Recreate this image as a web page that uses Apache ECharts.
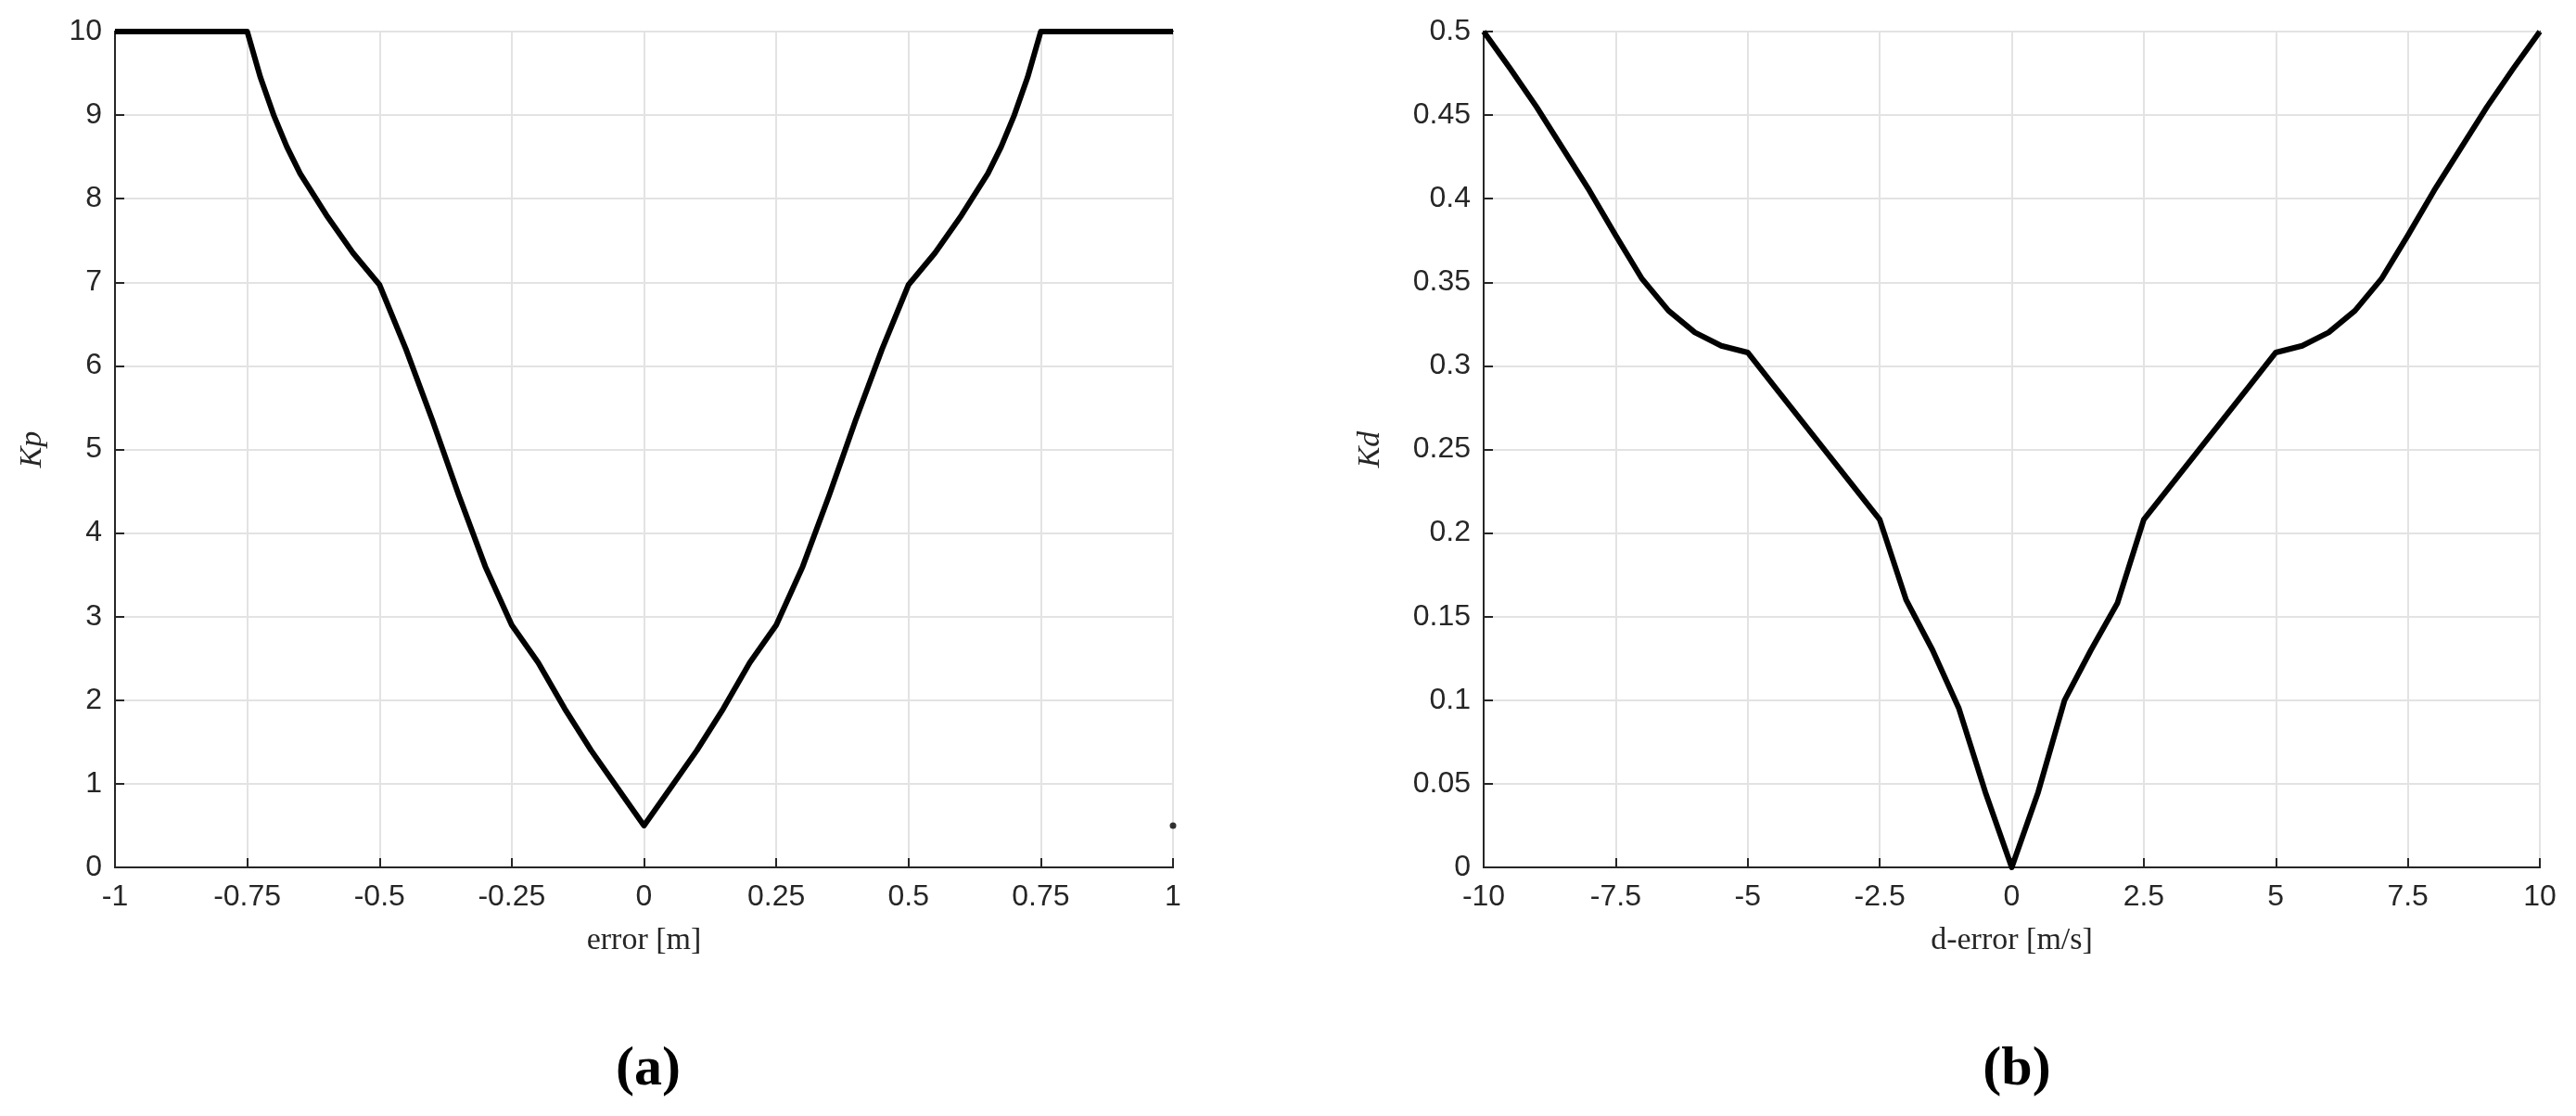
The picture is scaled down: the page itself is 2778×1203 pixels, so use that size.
<!DOCTYPE html>
<html>
<head>
<meta charset="utf-8">
<script src="https://cdn.jsdelivr.net/npm/echarts@6/dist/echarts.min.js"></script>
<style>
  html, body { margin: 0; padding: 0; background: #fff; }
  #chart { width: 2778px; height: 1203px; }
</style>
</head>
<body>
<div id="chart"></div>
<script>
// (a) Kp vs error
var errorX = [-1, -0.95, -0.9, -0.85, -0.8, -0.75, -0.725, -0.7, -0.675, -0.65, -0.6, -0.55, -0.5, -0.45, -0.4, -0.35, -0.3, -0.25, -0.2, -0.15, -0.1, -0.05, 0,
  0.05, 0.1, 0.15, 0.2, 0.25, 0.3, 0.35, 0.4, 0.45, 0.5, 0.55, 0.6, 0.65, 0.675, 0.7, 0.725, 0.75, 0.8, 0.85, 0.9, 0.95, 1];
var kpValues = [10, 10, 10, 10, 10, 10, 9.45, 9.0, 8.62, 8.3, 7.8, 7.35, 6.97, 6.2, 5.35, 4.45, 3.6, 2.9, 2.45, 1.9, 1.4, 0.95, 0.5,
  0.95, 1.4, 1.9, 2.45, 2.9, 3.6, 4.45, 5.35, 6.2, 6.97, 7.35, 7.8, 8.3, 8.62, 9.0, 9.45, 10, 10, 10, 10, 10, 10];
var kpStray = [[1, 0.5]];

// (b) Kd vs d-error
var dErrorX = [-10, -9.5, -9, -8.5, -8, -7.5, -7, -6.5, -6, -5.5, -5, -4.5, -4, -3.5, -3, -2.5, -2, -1.5, -1, -0.5, 0,
  0.5, 1, 1.5, 2, 2.5, 3, 3.5, 4, 4.5, 5, 5.5, 6, 6.5, 7, 7.5, 8, 8.5, 9, 9.5, 10];
var kdValues = [0.5, 0.478, 0.455, 0.43, 0.405, 0.378, 0.352, 0.333, 0.32, 0.312, 0.308, 0.288, 0.268, 0.248, 0.228, 0.208, 0.16, 0.13, 0.095, 0.045, 0,
  0.045, 0.1, 0.13, 0.158, 0.208, 0.228, 0.248, 0.268, 0.288, 0.308, 0.312, 0.32, 0.333, 0.352, 0.378, 0.405, 0.43, 0.455, 0.478, 0.5];

function pairs(xs, ys) {
  return xs.map(function (x, i) { return [x, ys[i]]; });
}

var tickFont = { fontFamily: 'Liberation Sans', fontSize: 32, color: '#262626' };
var nameFont = { fontFamily: 'Liberation Serif', fontSize: 34, color: '#262626' };
var gridLine = { show: true, lineStyle: { color: '#e3e3e3', width: 2 } };
var axisLine = { show: true, onZero: false, lineStyle: { color: '#262626', width: 2 } };
var tick = { show: true, inside: true, length: 10, lineStyle: { color: '#262626', width: 2 } };

function xAxis(idx, min, max, interval, name) {
  return {
    type: 'value', gridIndex: idx, min: min, max: max, interval: interval,
    name: name, nameLocation: 'middle', nameGap: 62, nameTextStyle: nameFont,
    axisLine: axisLine, axisTick: tick, splitLine: gridLine,
    axisLabel: Object.assign({ margin: 16 }, tickFont)
  };
}
function yAxis(idx, min, max, interval, name, gap) {
  return {
    type: 'value', gridIndex: idx, min: min, max: max, interval: interval,
    name: name, nameLocation: 'middle', nameGap: gap, nameTextStyle: Object.assign({ fontStyle: 'italic' }, nameFont),
    axisLine: axisLine, axisTick: tick, splitLine: gridLine,
    axisLabel: Object.assign({ margin: 14 }, tickFont)
  };
}

var chart = echarts.init(document.getElementById('chart'));
chart.setOption({
  animation: false,
  backgroundColor: '#fff',
  title: [
    { text: '(a)', left: 694, top: 1118, textAlign: 'center',
      textStyle: { fontFamily: 'Liberation Serif', fontSize: 60, fontWeight: 'bold', color: '#000' } },
    { text: '(b)', left: 2170, top: 1118, textAlign: 'center',
      textStyle: { fontFamily: 'Liberation Serif', fontSize: 60, fontWeight: 'bold', color: '#000' } }
  ],
  grid: [
    { left: 124, top: 34, width: 1141, height: 901, show: true, borderColor: '#262626', borderWidth: 2 },
    { left: 1600, top: 34, width: 1139, height: 901, show: true, borderColor: '#262626', borderWidth: 2 }
  ],
  xAxis: [
    xAxis(0, -1, 1, 0.25, 'error [m]'),
    xAxis(1, -10, 10, 2.5, 'd-error [m/s]')
  ],
  yAxis: [
    yAxis(0, 0, 10, 1, 'Kp', 72),
    yAxis(1, 0, 0.5, 0.05, 'Kd', 105)
  ],
  series: [
    { type: 'line', xAxisIndex: 0, yAxisIndex: 0, data: pairs(errorX, kpValues),
      showSymbol: false, lineStyle: { color: '#000', width: 6, join: 'round' } },
    { type: 'scatter', xAxisIndex: 0, yAxisIndex: 0, data: kpStray, symbolSize: 7,
      itemStyle: { color: '#000' } },
    { type: 'line', xAxisIndex: 1, yAxisIndex: 1, data: pairs(dErrorX, kdValues),
      showSymbol: false, lineStyle: { color: '#000', width: 6, join: 'round' } }
  ]
});
</script>
</body>
</html>
